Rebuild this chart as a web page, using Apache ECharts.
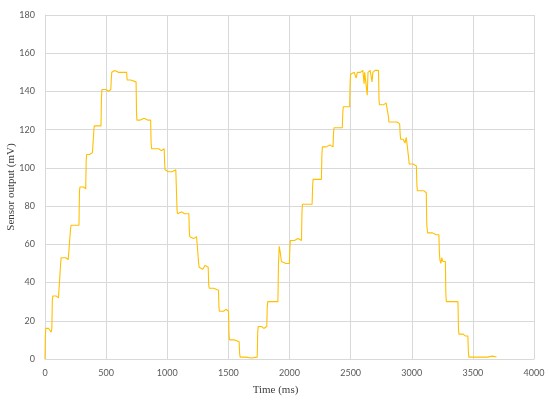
<!DOCTYPE html>
<html>
<head>
<meta charset="utf-8">
<script src="https://cdn.jsdelivr.net/npm/echarts@6/dist/echarts.min.js"></script>
<style>
html,body{margin:0;padding:0;background:#fff;}
#chart{width:550px;height:400px;}
</style>
</head>
<body>
<div id="chart"></div>
<script>
// Time (ms)
var timeMs = [
  0,3,6,30,45,50,53,56,
  60,64,90,110,124,
  128,132,170,190,205,
  209,213,250,278,
  282,286,300,315,333,
  337,341,365,380,388,395,
  399,403,430,445,458,
  462,466,500,520,538,
  542,546,570,600,640,668,
  672,700,745,
  749,752,780,810,840,864,
  868,872,900,930,950,975,
  979,982,1010,1040,1070,1076,
  1080,1084,1100,1120,1140,1177,
  1181,1185,1215,1240,1253,
  1257,1261,1290,1310,1335,
  1339,1343,1380,1419,
  1423,1427,1460,1480,1501,
  1505,1509,1550,1588,
  1592,1596,1640,1690,1736,
  1740,1744,1770,1790,1814,
  1818,1822,1850,1880,1905,
  1910,1916,1924,1934,1948,1970,1999,
  2003,2007,2040,2070,2098,
  2102,2106,2150,2185,
  2189,2193,2230,2261,
  2265,2269,2300,2330,2356,
  2360,2364,2400,2432,
  2436,2440,2470,2492,
  2496,2500,2530,2545,2555,2580,2600,2610,2615,2630,2636,2642,2660,2675,2682,2700,2715,2728,
  2732,2736,2770,2790,2805,
  2809,2813,2850,2880,2901,
  2905,2909,2930,2945,2955,2971,
  2975,2979,3010,3038,
  3042,3046,3080,3100,3119,
  3123,3130,3170,3200,3222,
  3226,3230,3238,3245,3255,3275,
  3279,3283,3330,3378,
  3382,3386,3420,3440,3459,
  3463,3467,3550,3620,3660,3693
];
// Sensor output (mV)
var outputMv = [
  0,12,16,16,15,14,15,16,
  31,33,33,32,33,
  50,53,53,52,53,
  68,70,70,70,
  88,90,89,90,89,
  104,107,107,106,108,107,
  119,122,122,121,122,
  137,141,141,140,141,
  146,150,151,150,150,150,
  146,146,145,
  128,125,125,126,125,125,
  113,110,110,110,109,110,
  102,99,98,98,99,100,
  78,76,75,77,76,76,
  66,64,63,64,63,
  50,48,47,49,48,
  39,37,37,36,
  27,25,25,26,25,
  13,10,10,9,
  3,1,1,0.5,1,
  14,17,17,16,17,
  27,30,30,30,30,
  50,59,56,51,50,50,50,
  58,62,62,63,62,
  77,81,81,81,
  90,94,94,94,
  107,111,111,112,111,
  118,121,121,121,
  129,132,132,132,
  145,149,150,147,150,150,151,144,150,150,138,150,151,145,150,151,150,151,
  136,133,133,134,133,
  127,124,124,124,123,
  118,115,115,113,116,115,
  105,102,102,101,
  91,88,88,88,87,
  70,66,66,65,65,
  56,52,50,53,51,51,
  34,30,30,30,
  16,13,13,12,12,
  4,1,1,1,1.5,1
];
var xTicks = [0,500,1000,1500,2000,2500,3000,3500,4000];
var yTicks = [0,20,40,60,80,100,120,140,160,180];

var seriesData = timeMs.map(function(t,i){ return [t, outputMv[i]]; });

var chart = echarts.init(document.getElementById('chart'), null, {renderer:'canvas'});
chart.setOption({
  animation: false,
  backgroundColor: '#fff',
  grid: {left: 45, right: 16, top: 15, bottom: 41, containLabel: false, outerBoundsMode: 'none'},
  xAxis: {
    type: 'value',
    min: xTicks[0], max: xTicks[xTicks.length-1], interval: 500,
    name: 'Time (ms)', nameLocation: 'middle', nameGap: 26, nameMoveOverlap: false,
    nameTextStyle: {fontFamily: 'Liberation Serif', fontSize: 11, color: '#404040', padding: [0, 28, 0, 0]},
    axisLine: {show: true, lineStyle: {color: '#D9D9D9', width: 1}},
    axisTick: {show: false},
    axisLabel: {color: '#595959', fontSize: 9, fontFamily: 'Lato', margin: 10,
      formatter: function(v){ return String(v); }},
    splitLine: {show: true, lineStyle: {color: '#D9D9D9', width: 1}}
  },
  yAxis: {
    type: 'value',
    min: yTicks[0], max: yTicks[yTicks.length-1], interval: 20,
    name: 'Sensor output (mV)', nameLocation: 'middle', nameGap: 28, nameMoveOverlap: false,
    nameTextStyle: {fontFamily: 'Liberation Serif', fontSize: 11, color: '#404040'},
    axisLine: {show: true, lineStyle: {color: '#D9D9D9', width: 1}},
    axisTick: {show: false},
    axisLabel: {color: '#595959', fontSize: 9, fontFamily: 'Lato', margin: 10,
      formatter: function(v){ return String(v); }},
    splitLine: {show: true, lineStyle: {color: '#D9D9D9', width: 1}}
  },
  series: [{
    type: 'line',
    data: seriesData,
    showSymbol: false,
    lineStyle: {color: '#FFC000', width: 1.1},
    itemStyle: {color: '#FFC000'}
  }]
});
</script>
</body>
</html>
